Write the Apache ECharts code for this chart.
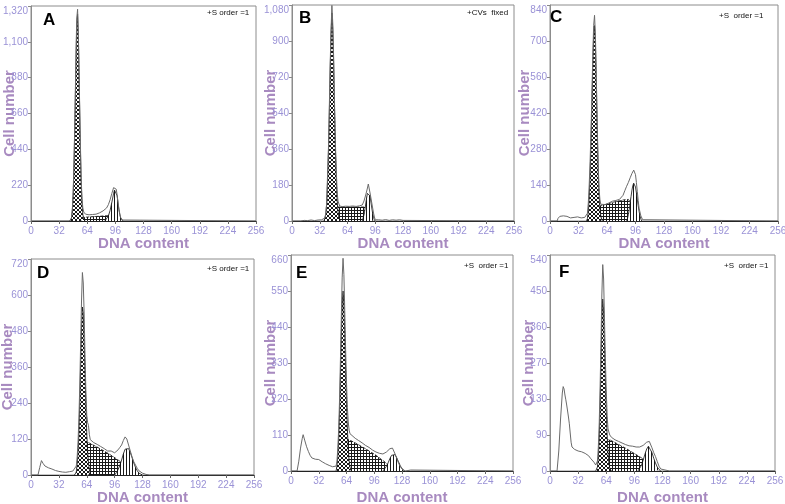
<!DOCTYPE html>
<html>
<head>
<meta charset="utf-8">
<script src="https://cdn.jsdelivr.net/npm/echarts@6/dist/echarts.min.js"></script>
<style>
  html, body { margin: 0; padding: 0; background: #fff; }
  #chart { width: 785px; height: 504px; }
</style>
</head>
<body>
<div id="chart"></div>
<script>
// panel labels and notes
const panelLetters = ['A', 'B', 'C', 'D', 'E', 'F']
const panelNotes = ['+S order =1', '+CVs  fixed', '+S  order =1', '+S order =1', '+S  order =1', '+S  order =1']

// y axis ranges and tick labels (F really reads 130 in the source)
const yMaxes = [1320, 1080, 840, 720, 660, 540]
const yLabelsA = ['0', '220', '440', '660', '880', '1,100', '1,320']
const yLabelsB = ['0', '180', '360', '540', '720', '900', '1,080']
const yLabelsC = ['0', '140', '280', '420', '560', '700', '840']
const yLabelsD = ['0', '120', '240', '360', '480', '600', '720']
const yLabelsE = ['0', '110', '220', '330', '440', '550', '660']
const yLabelsF = ['0', '90', '130', '270', '360', '450', '540']

// [DNA channel, cell count]
const envA = [[0,0],[44,0],[46,20],[47,70],[48,180],[49,380],[50,650],[51,960],[52,1240],[53,1300],[54,1120],[55,820],[56,520],[57,280],[58,140],[59,80],[60,55],[62,42],[66,38],[70,40],[74,42],[78,50],[82,62],[86,80],[88,100],[90,130],[92,170],[94,205],[95,215],[96,212],[97,195],[98,160],[99,115],[100,75],[101,45],[102,22],[104,6],[106,0],[256,0]]
const g1A = [[44,0],[46,15],[47,60],[48,160],[49,360],[50,620],[51,930],[52,1200],[53,1270],[54,1100],[55,800],[56,490],[57,250],[58,110],[59,40],[60,10],[62,0]]
const sA = [[48,0],[50,18],[56,22],[64,24],[72,27],[80,30],[88,33],[94,35],[97,30],[99,12],[100,0]]
const g2A = [[84,0],[86,12],[88,30],[90,65],[92,115],[94,170],[95,190],[96,195],[97,185],[98,155],[99,110],[100,70],[101,40],[102,18],[104,4],[105,0]]

const envB = [[0,0],[10,0],[12,6],[14,3],[16,6],[18,2],[22,5],[26,2],[30,5],[34,6],[36,8],[38,15],[39,40],[40,90],[41,230],[42,360],[43,560],[44,780],[45,950],[46,1078],[47,990],[48,820],[49,600],[50,400],[51,260],[52,150],[53,100],[55,75],[58,72],[62,74],[66,73],[70,75],[74,73],[78,76],[81,80],[83,100],[85,130],[87,165],[88,185],[89,175],[90,140],[92,90],[94,40],[95,20],[96,6],[98,3],[100,6],[104,4],[108,7],[112,3],[116,6],[120,4],[124,6],[128,3],[130,0],[256,0]]
const g1B = [[37,0],[38,10],[39,35],[40,85],[41,200],[42,340],[43,530],[44,750],[45,930],[46,1040],[47,960],[48,790],[49,570],[50,370],[51,220],[52,110],[53,50],[54,20],[55,5],[56,0]]
const sB = [[42,0],[44,60],[46,68],[50,70],[60,70],[70,70],[80,70],[86,70],[88,62],[90,20],[91,0]]
const g2B = [[81,0],[82,10],[83,30],[84,55],[85,85],[86,115],[87,138],[88,148],[89,145],[90,125],[91,95],[92,65],[93,38],[94,18],[95,6],[96,0]]

const envC = [[0,0],[8,0],[9,10],[11,18],[13,22],[15,20],[17,16],[19,18],[21,14],[23,12],[25,9],[27,14],[29,11],[31,16],[33,9],[35,12],[37,8],[39,14],[41,18],[42,30],[43,70],[44,140],[45,230],[46,350],[47,480],[48,640],[49,760],[50,800],[51,720],[52,560],[53,380],[54,230],[55,130],[56,85],[57,65],[58,60],[62,64],[66,70],[70,77],[74,80],[78,84],[80,88],[82,100],[84,118],[86,135],[88,150],[90,168],[92,185],[94,198],[95,196],[96,180],[97,150],[98,115],[99,80],[100,50],[102,20],[104,5],[106,0],[256,0]]
const g1C = [[41,0],[42,10],[43,35],[44,90],[45,180],[46,300],[47,450],[48,600],[49,720],[50,760],[51,690],[52,530],[53,360],[54,210],[55,110],[56,50],[57,20],[58,5],[59,0]]
const sC = [[45,0],[48,45],[52,54],[56,58],[60,62],[66,68],[72,74],[78,79],[84,83],[88,84],[91,70],[93,40],[95,12],[97,0]]
const g2C = [[86,0],[87,10],[88,25],[89,45],[90,70],[91,95],[92,120],[93,138],[94,147],[95,145],[96,132],[97,110],[98,85],[99,60],[100,38],[101,20],[102,8],[103,0]]

const envD = [[0,0],[8,0],[10,25],[12,48],[14,38],[16,30],[18,28],[20,24],[22,22],[24,20],[26,18],[28,15],[30,14],[32,12],[34,11],[36,10],[38,10],[40,9],[42,10],[44,11],[46,12],[48,13],[50,15],[52,30],[53,60],[54,110],[55,190],[56,300],[57,440],[58,580],[59,675],[60,640],[61,540],[62,400],[63,280],[64,200],[65,175],[66,165],[67,135],[68,118],[70,112],[72,108],[76,102],[80,95],[84,88],[88,80],[90,76],[92,80],[94,76],[96,74],[98,80],[100,84],[102,92],[104,100],[106,115],[108,127],[109,128],[110,120],[112,100],[114,80],[116,60],[118,44],[120,33],[122,22],[124,14],[126,10],[128,6],[130,4],[132,2],[136,0],[256,0]]
const g1D = [[50,0],[52,10],[53,35],[54,75],[55,140],[56,240],[57,370],[58,490],[59,560],[60,540],[61,450],[62,340],[63,230],[64,140],[65,80],[66,40],[67,18],[68,5],[70,0]]
const sD = [[56,0],[58,60],[60,110],[62,114],[66,108],[70,102],[76,93],[82,83],[88,73],[94,62],[100,50],[106,38],[110,30],[114,22],[118,14],[120,8],[122,0]]
const g2D = [[96,0],[98,8],[100,18],[102,32],[104,50],[106,70],[108,86],[110,92],[112,88],[114,75],[116,58],[118,40],[120,25],[122,14],[124,6],[126,2],[128,0]]

const envE = [[0,0],[7,0],[9,30],[11,70],[13,100],[14,111],[15,105],[16,92],[18,74],[20,60],[22,48],[24,40],[26,35],[28,36],[30,33],[32,35],[34,31],[36,28],[38,26],[40,22],[42,20],[44,17],[46,16],[48,13],[50,12],[52,15],[53,30],[54,70],[55,130],[56,220],[57,340],[58,470],[59,590],[60,650],[61,600],[62,490],[63,370],[64,270],[65,195],[66,150],[67,125],[68,114],[70,108],[74,100],[78,93],[82,86],[86,78],[90,72],[94,64],[98,58],[102,54],[106,52],[108,54],[110,58],[112,62],[114,68],[116,71],[117,70],[118,64],[120,52],[122,38],[124,24],[126,14],[128,6],[130,2],[132,0],[138,3],[139,0],[256,0]]
const g1E = [[52,0],[53,15],[54,45],[55,100],[56,180],[57,290],[58,410],[59,510],[60,550],[61,510],[62,420],[63,310],[64,210],[65,130],[66,70],[67,32],[68,12],[69,3],[70,0]]
const sE = [[55,0],[57,40],[59,80],[61,95],[64,98],[68,94],[74,86],[80,77],[86,68],[92,58],[98,48],[104,36],[108,28],[112,18],[116,8],[118,3],[120,0]]
const g2E = [[106,0],[108,6],[110,14],[112,25],[114,38],[116,48],[118,53],[120,50],[122,40],[124,28],[126,16],[128,7],[130,2],[131,0]]

const envF = [[0,0],[8,0],[10,50],[12,130],[14,195],[15,211],[16,205],[17,190],[18,178],[19,165],[20,150],[21,135],[22,118],[23,95],[24,72],[25,60],[26,56],[28,54],[30,56],[32,50],[34,52],[36,48],[38,46],[40,44],[42,42],[44,38],[46,32],[48,28],[50,22],[52,15],[53,12],[54,25],[55,60],[56,120],[57,210],[58,320],[59,440],[60,516],[61,480],[62,380],[63,280],[64,200],[65,140],[66,105],[68,90],[70,84],[74,78],[78,74],[82,70],[86,66],[90,63],[94,62],[98,60],[102,60],[106,64],[108,68],[110,72],[112,75],[113,74],[114,70],[116,58],[118,46],[120,36],[122,24],[124,12],[126,5],[128,0],[136,0],[137,3],[138,0],[256,0]]
const g1F = [[52,0],[54,10],[55,35],[56,80],[57,160],[58,270],[59,380],[60,430],[61,400],[62,320],[63,230],[64,150],[65,90],[66,45],[67,20],[68,6],[70,0]]
const sF = [[55,0],[57,35],[59,65],[61,78],[63,82],[68,78],[74,71],[80,64],[86,57],[92,49],[98,41],[104,33],[108,27],[112,19],[116,10],[118,5],[120,0]]
const g2F = [[100,0],[102,5],[104,14],[106,27],[108,42],[110,55],[112,62],[114,58],[116,46],[118,32],[120,20],[122,10],[124,4],[126,0]]

const yLabels = [yLabelsA, yLabelsB, yLabelsC, yLabelsD, yLabelsE, yLabelsF]
const envs = [envA, envB, envC, envD, envE, envF]
const g1s = [g1A, g1B, g1C, g1D, g1E, g1F]
const ss = [sA, sB, sC, sD, sE, sF]
const g2s = [g2A, g2B, g2C, g2D, g2E, g2F]

// layout: [left, top, width, height], name gaps, letter/note positions
const boxes = [[31, 6, 225, 215], [292, 5, 222, 216], [550, 5, 228, 216], [31, 259, 223, 216], [291, 255, 222, 216], [550, 255, 225, 216]]
const yNameGaps = [14, 14, 18, 16, 13, 14]
const xNameGaps = [15, 15, 15, 15, 19, 19]
const letterPos = [[43, 12], [299, 10], [550, 9], [37, 265], [296, 265], [559, 264]]
const notePos = [[207, 9], [467, 9], [719, 12], [207, 265], [464, 262], [724, 262]]

const FONT = 'Arial, "Liberation Sans", sans-serif'
const tickColor = '#9a92d6'
const nameColor = '#a88ac0'

// hatch patterns
function makePattern(kind) {
    const c = document.createElement('canvas')
    const s = kind === 'cross' ? 4 : 3
    c.width = s
    c.height = s
    const ctx = c.getContext('2d')
    ctx.fillStyle = '#fff'
    ctx.fillRect(0, 0, s, s)
    ctx.fillStyle = '#1a1a1a'
    if (kind === 'cross') {
        for (let i = 0; i < s; i++) {
            ctx.fillRect(i, i, 1, 1)
            ctx.fillRect(s - 1 - i, i, 1, 1)
        }
    } else if (kind === 'grid') {
        ctx.fillRect(0, 0, s, 1)
        ctx.fillRect(0, 0, 1, s)
    } else {
        ctx.fillRect(0, 0, 1, s)
    }
    return { image: c, repeat: 'repeat' }
}
const crossPat = makePattern('cross')
const gridPat = makePattern('grid')
const vertPat = makePattern('vert')

const grid = [], xAxis = [], yAxis = [], series = [], title = []

boxes.forEach((b, i) => {
    grid.push({
        left: b[0], top: b[1], width: b[2], height: b[3],
        show: true, borderColor: '#8c8c8c', borderWidth: 1,
        containLabel: false, outerBoundsMode: 'none'
    })
    xAxis.push({
        type: 'value', gridIndex: i, min: 0, max: 256, interval: 32,
        name: 'DNA content', nameLocation: 'middle', nameGap: xNameGaps[i], nameMoveOverlap: false,
        nameTextStyle: { color: nameColor, fontSize: 15, fontWeight: 'bold', fontFamily: FONT },
        axisLine: { show: true, onZero: false, lineStyle: { color: '#222', width: 1.2 } },
        axisTick: { show: true, length: 3, lineStyle: { color: '#666' } },
        axisLabel: { color: tickColor, fontSize: 10, margin: 5, fontFamily: FONT, showMinLabel: true, showMaxLabel: true },
        splitLine: { show: false }
    })
    const step = yMaxes[i] / 6
    yAxis.push({
        type: 'value', gridIndex: i, min: 0, max: yMaxes[i], interval: step,
        name: 'Cell number', nameLocation: 'middle', nameGap: yNameGaps[i], nameMoveOverlap: false,
        nameTextStyle: { color: nameColor, fontSize: 15, fontWeight: 'bold', fontFamily: FONT },
        axisLine: { show: true, lineStyle: { color: '#8c8c8c' } },
        axisTick: { show: true, length: 3, lineStyle: { color: '#888' } },
        axisLabel: {
            color: tickColor, fontSize: 10, margin: 3, fontFamily: FONT,
            showMinLabel: true, showMaxLabel: true, verticalAlignMaxLabel: 'top',
            formatter: (v) => yLabels[i][Math.round(v / step)]
        },
        splitLine: { show: false }
    })

    const base = { type: 'line', xAxisIndex: i, yAxisIndex: i, symbol: 'none', silent: true, animation: false }
    // S phase (grid hatch)
    series.push(Object.assign({}, base, {
        data: ss[i], z: 2,
        lineStyle: { color: '#111', width: 0.8, type: 'dashed' },
        areaStyle: { color: gridPat, opacity: 1 }
    }))
    // G2 (vertical hatch)
    series.push(Object.assign({}, base, {
        data: g2s[i], z: 3,
        lineStyle: { color: '#111', width: 0.8 },
        areaStyle: { color: vertPat, opacity: 1 }
    }))
    // G1 (cross hatch)
    series.push(Object.assign({}, base, {
        data: g1s[i], z: 4,
        lineStyle: { color: '#111', width: 0.8 },
        areaStyle: { color: crossPat, opacity: 1 }
    }))
    // measured histogram
    series.push(Object.assign({}, base, {
        data: envs[i], z: 5,
        lineStyle: { color: '#6a6a6a', width: 1 }
    }))

    title.push({
        text: panelLetters[i], left: letterPos[i][0], top: letterPos[i][1], padding: 0,
        textStyle: { color: '#000', fontSize: 17, fontWeight: 'bold', fontFamily: FONT }
    })
    title.push({
        text: panelNotes[i], left: notePos[i][0], top: notePos[i][1], padding: 0,
        textStyle: { color: '#111', fontSize: 8, fontWeight: 'normal', fontFamily: FONT }
    })
})

const chart = echarts.init(document.getElementById('chart'), null, { renderer: 'canvas' })
chart.setOption({
    animation: false,
    backgroundColor: '#fff',
    title: title,
    grid: grid,
    xAxis: xAxis,
    yAxis: yAxis,
    series: series
})
</script>
</body>
</html>
